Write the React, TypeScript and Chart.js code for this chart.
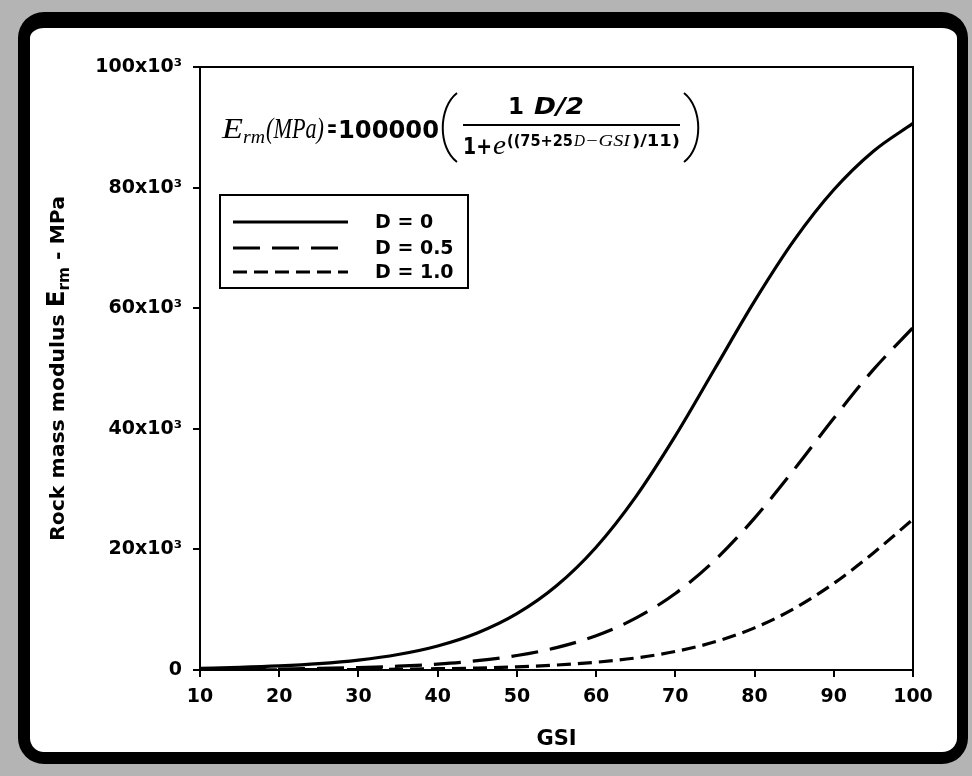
import React, { useEffect, useRef } from 'react';
import { Chart, registerables } from 'chart.js';

Chart.register(...registerables);

// GSI values (x)
const gsi = [10, 15, 20, 25, 30, 35, 40, 45, 50, 55, 60, 65, 70, 75, 80, 85, 90, 95, 100];
// Rock mass modulus Erm (MPa)
const ermD0 = [271, 426, 669, 1050, 1645, 2566, 3985, 6139, 9340, 13965, 20366, 28719, 38827, 50000, 61172, 71281, 79634, 86035, 90660];
const ermD05 = [65, 103, 162, 255, 400, 629, 986, 1542, 2401, 3715, 5690, 8589, 12695, 18226, 25193, 33259, 41748, 49811, 56775];
const ermD1 = [14, 22, 35, 55, 86, 135, 213, 335, 525, 822, 1283, 1993, 3070, 4670, 6982, 10183, 14359, 19413, 25000];
const seriesLabels = ['D = 0', 'D = 0.5', 'D = 1.0'];
const seriesDash = [[], [27, 12], [14, 7]];
const xTickValues = [10, 20, 30, 40, 50, 60, 70, 80, 90, 100];
const yTickValues = [0, 20000, 40000, 60000, 80000, 100000];
const xTitle = 'GSI';

const SANS = '"DejaVu Sans", sans-serif';
const SERIF = '"Liberation Serif", serif';

function put(ctx: CanvasRenderingContext2D, text: string, font: string, x: number, y: number, w?: number) {
  ctx.font = font;
  const m = ctx.measureText(text).width;
  if (w && m > 0) {
    ctx.save();
    ctx.translate(x, y);
    ctx.scale(w / m, 1);
    ctx.fillText(text, 0, 0);
    ctx.restore();
    return x + w;
  }
  ctx.fillText(text, x, y);
  return x + m;
}

const decorPlugin = {
  id: 'decor',
  afterDraw(chart: any) {
    const { ctx, chartArea: a } = chart;
    ctx.save();
    ctx.strokeStyle = '#000';
    ctx.fillStyle = '#000';
    ctx.lineWidth = 2;
    // top and right frame of the plot
    ctx.beginPath();
    ctx.moveTo(a.left, a.top);
    ctx.lineTo(a.right, a.top);
    ctx.lineTo(a.right, a.bottom);
    ctx.stroke();

    // x title
    ctx.textAlign = 'center';
    ctx.textBaseline = 'middle';
    ctx.font = `bold 21px ${SANS}`;
    ctx.fillText(xTitle, (a.left + a.right) / 2, 740);

    // y title (rotated, with subscript)
    ctx.save();
    ctx.translate(56, (a.top + a.bottom) / 2);
    ctx.rotate(-Math.PI / 2);
    ctx.textAlign = 'left';
    ctx.textBaseline = 'alphabetic';
    const parts = [
      { t: 'Rock mass modulus ', f: `bold 20px ${SANS}`, dy: 0 },
      { t: 'E', f: `bold 24px ${SANS}`, dy: 0 },
      { t: 'rm', f: `bold 15px ${SANS}`, dy: 5 },
      { t: ' - MPa', f: `bold 20px ${SANS}`, dy: 0 },
    ];
    let total = 0;
    parts.forEach((p) => { ctx.font = p.f; total += ctx.measureText(p.t).width; });
    const target = 345;
    ctx.scale(target / total, 1);
    let px = -total / 2;
    parts.forEach((p) => {
      ctx.font = p.f;
      ctx.fillText(p.t, px, 8 + p.dy);
      px += ctx.measureText(p.t).width;
    });
    ctx.restore();

    // equation
    ctx.textAlign = 'left';
    ctx.textBaseline = 'alphabetic';
    put(ctx, 'E', `italic 29px ${SERIF}`, 222, 138, 21);
    put(ctx, 'rm', `italic 18px ${SERIF}`, 243, 143, 22);
    put(ctx, '(MPa)', `italic 29px ${SERIF}`, 266, 138, 58);
    put(ctx, '=', `bold 24px ${SANS}`, 327, 137, 10);
    put(ctx, '100000', `bold 24px ${SANS}`, 338, 138, 101);
    // parentheses
    ctx.lineWidth = 2;
    ctx.beginPath();
    ctx.moveTo(457, 93);
    ctx.bezierCurveTo(438, 108, 438, 148, 457, 162);
    ctx.stroke();
    ctx.beginPath();
    ctx.moveTo(684, 93);
    ctx.bezierCurveTo(703, 108, 703, 148, 684, 162);
    ctx.stroke();
    // fraction line
    ctx.beginPath();
    ctx.moveTo(463, 125);
    ctx.lineTo(680, 125);
    ctx.stroke();
    // numerator
    put(ctx, '1', `bold 23px ${SANS}`, 508, 114);
    put(ctx, 'D/2', `italic bold 23px ${SANS}`, 534, 114, 50);
    // denominator
    put(ctx, '1+', `bold 23px ${SANS}`, 463, 154, 29);
    put(ctx, 'e', `italic 28px ${SERIF}`, 493, 154, 13);
    let ex = put(ctx, '((75+25', `bold 16px ${SANS}`, 507, 146, 66);
    ex = put(ctx, 'D', `italic 17px ${SERIF}`, ex + 1, 146, 11);
    ex = put(ctx, '−GSI', `italic 17px ${SERIF}`, ex, 146, 45);
    put(ctx, ')/11)', `bold 16px ${SANS}`, ex + 2, 146, 48);

    // legend
    ctx.lineWidth = 2;
    ctx.strokeRect(220, 195, 248, 93);
    const rows = [222, 248, 272];
    chart.data.datasets.forEach((ds: any, i: number) => {
      ctx.save();
      ctx.lineWidth = 3;
      ctx.setLineDash(ds.borderDash || []);
      ctx.beginPath();
      ctx.moveTo(233, rows[i]);
      ctx.lineTo(348, rows[i]);
      ctx.stroke();
      ctx.restore();
      ctx.textBaseline = 'middle';
      ctx.font = `bold 19px ${SANS}`;
      ctx.fillText(ds.label, 375, rows[i] + 1);
    });
    ctx.restore();
  },
};

export default function App() {
  const ref = useRef<HTMLCanvasElement>(null);
  useEffect(() => {
    if (!ref.current) return;
    const mk = (vals: number[]) => gsi.map((g, i) => ({ x: g, y: vals[i] }));
    const all = [ermD0, ermD05, ermD1];
    const chart = new Chart(ref.current, {
      type: 'line',
      data: {
        datasets: all.map((vals, i) => ({
          label: seriesLabels[i],
          data: mk(vals),
          borderColor: '#000',
          borderWidth: 3.2,
          borderDash: seriesDash[i],
          pointRadius: 0,
          fill: false,
          cubicInterpolationMode: 'monotone' as const,
        })),
      },
      options: {
        animation: false,
        responsive: false,
        devicePixelRatio: 1,
        layout: { padding: { left: 80, top: 67, right: 59, bottom: 46 } },
        plugins: { legend: { display: false }, tooltip: { enabled: false } },
        scales: {
          x: {
            type: 'linear',
            min: 10,
            max: 100,
            afterBuildTicks: (s: any) => { s.ticks = xTickValues.map((v) => ({ value: v })); },
            afterFit: (s: any) => { s.height = 60; },
            grid: { drawOnChartArea: false, drawTicks: true, tickLength: 7, color: '#000', lineWidth: 2 },
            border: { display: true, color: '#000', width: 2 },
            ticks: { color: '#000', font: { family: SANS, size: 19, weight: 'bold' }, padding: 9, maxRotation: 0 },
          },
          y: {
            type: 'linear',
            min: 0,
            max: 100000,
            afterBuildTicks: (s: any) => { s.ticks = yTickValues.map((v) => ({ value: v })); },
            afterFit: (s: any) => { s.width = 120; },
            grid: { drawOnChartArea: false, drawTicks: true, tickLength: 7, color: '#000', lineWidth: 2 },
            border: { display: true, color: '#000', width: 2 },
            ticks: {
              color: '#000',
              font: { family: SANS, size: 19, weight: 'bold' },
              padding: 11,
              callback: (v: any) => (v === 0 ? '0' : `${v / 1000}x10³`),
            },
          },
        },
      },
      plugins: [decorPlugin],
    });
    return () => chart.destroy();
  }, []);

  return (
    <div style={{ position: 'fixed', left: 0, top: 0, width: 972, height: 776, background: '#b4b4b4', overflow: 'hidden' }}>
      <div
        style={{
          position: 'absolute',
          left: 18,
          top: 12,
          width: 950,
          height: 752,
          boxSizing: 'border-box',
          borderStyle: 'solid',
          borderColor: '#000',
          borderWidth: '16px 11px 12px 12px',
          borderRadius: 26,
          background: '#fff',
        }}
      />
      <canvas ref={ref} width={972} height={776} style={{ position: 'absolute', left: 0, top: 0, width: 972, height: 776 }} />
    </div>
  );
}
